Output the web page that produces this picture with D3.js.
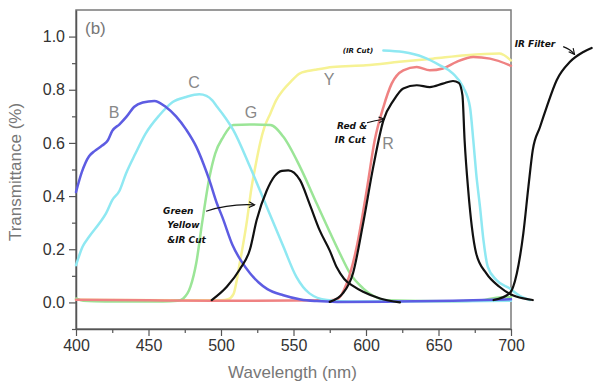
<!DOCTYPE html>
<html>
<head>
<meta charset="utf-8">
<script src="https://cdn.jsdelivr.net/npm/d3@7"></script>
<style>
  body { margin: 0; background: #fff; }
  svg { display: block; font-family: "Liberation Sans", Arial, sans-serif; }
</style>
</head>
<body>
<script>
// chart size and plot box
var canvasX = 600;
var canvasY = 389;
var plotLeft = 76, plotRight = 511, plotTop = 10, plotBottom = 329;

// axis ticks
var xTicks = [400, 450, 500, 550, 600, 650, 700];
var xMinor = [425, 475, 525, 575, 625, 675];
var yTicks = [0.0, 0.2, 0.4, 0.6, 0.8, 1.0];
var yMinor = [-0.1, 0.1, 0.3, 0.5, 0.7, 0.9];

// filter curves, [wavelength nm, transmittance]
var blueB = [[400,0.415],[404,0.49],[409,0.55],[413,0.57],[418,0.59],[422,0.61],[425,0.645],[430,0.67],[435,0.70],[440,0.735],[446,0.752],[454,0.758],[462,0.735],[469,0.70],[476,0.65],[483,0.585],[488,0.52],[492,0.46],[497,0.375],[501,0.32],[508,0.215],[514,0.155],[520,0.11],[526,0.075],[532,0.05],[543,0.027],[555,0.011],[566,0.005],[580,0.002],[620,0.003],[660,0.006],[700,0.012]];
var cyanC = [[400,0.14],[404.6,0.21],[409,0.247],[416,0.297],[420.7,0.335],[425,0.385],[430,0.42],[434.5,0.485],[441,0.56],[448,0.635],[457.5,0.704],[466.7,0.754],[476,0.773],[485,0.783],[490,0.777],[494,0.76],[497,0.738],[501,0.71],[508.5,0.648],[520,0.51],[531.5,0.36],[543,0.21],[552,0.096],[561,0.034],[573,0.009],[590,0.003],[650,0.004],[700,0.006]];
var cyanIR = [[612,0.948],[625.7,0.942],[639.5,0.923],[651,0.892],[660,0.861],[667,0.81],[671.7,0.735],[674,0.61],[676,0.485],[678.6,0.36],[681,0.234],[684,0.134],[690,0.084],[699,0.053],[706,0.025],[713,0.009]];
var greenG = [[400,0.015],[405,0.006],[420,0.003],[460,0.003],[470,0.006],[474,0.015],[479,0.06],[483,0.15],[487,0.30],[492,0.47],[496,0.56],[501.6,0.623],[508.5,0.667],[520,0.669],[534,0.667],[543,0.623],[554.5,0.51],[566,0.372],[575,0.265],[582,0.184],[589,0.109],[598,0.053],[605,0.025],[615,0.008],[660,0.004],[680,0.008],[690,0.018],[700,0.02]];
var yellowY = [[400,0.01],[470,0.008],[500,0.008],[505,0.012],[508.5,0.03],[513,0.15],[517.7,0.30],[521,0.43],[524,0.52],[527,0.60],[530,0.66],[534,0.71],[538,0.76],[543,0.80],[548,0.83],[554.5,0.862],[565,0.875],[577,0.886],[600,0.892],[623,0.905],[646,0.917],[669,0.93],[692,0.936],[700,0.91]];
var redR = [[400,0.01],[450,0.008],[500,0.006],[550,0.007],[575,0.008],[580,0.012],[586.7,0.071],[593.6,0.209],[600.5,0.422],[606,0.61],[612,0.735],[617.7,0.823],[625.7,0.873],[635,0.886],[644,0.873],[653,0.88],[662.5,0.905],[674,0.923],[685.5,0.917],[700,0.89]];
var blackGY = [[493.6,0.009],[504,0.059],[513,0.125],[520,0.2],[524.6,0.31],[531.5,0.42],[537,0.475],[542,0.495],[546.4,0.497],[554.5,0.46],[561,0.372],[568,0.272],[575,0.195],[580,0.13],[585,0.088],[591,0.062],[598,0.04],[609.7,0.015],[623.4,0.0]];
var blackRed = [[575,0.002],[584,0.034],[591,0.109],[598,0.297],[605,0.51],[612,0.685],[619,0.76],[625.7,0.805],[635,0.817],[644,0.81],[653,0.823],[660,0.833],[664,0.826],[666.5,0.78],[668,0.61],[670.5,0.422],[673,0.284],[676,0.184],[683,0.109],[692,0.059],[700,0.03],[708.5,0.015],[715,0.009]];
var blackIR = [[688,0.009],[699,0.034],[704,0.109],[708.5,0.26],[712,0.435],[715,0.573],[720,0.66],[724.6,0.735],[731.5,0.836],[740.7,0.905],[749.9,0.942],[755.6,0.957]];

// curve labels [text, wavelength, transmittance]
var curveLabels = [["B", 426.2, 0.693], ["C", 481.4, 0.806], ["G", 520.7, 0.693], ["Y", 574.5, 0.817], ["R", 615.2, 0.576]];

// handwritten notes [text, wavelength, transmittance, size]
var notes = [["(IR Cut)", 584, 0.94, 7], ["Green", 460, 0.334, 9], ["Yellow", 463, 0.281, 9], ["&IR Cut", 463, 0.225, 9],
             ["Red &", 580, 0.653, 9], ["IR Cut", 578.5, 0.600, 9], ["IR Filter", 702.5, 0.962, 9]];
// note arrows, start / control / end
var arrows = [[[489.7, 0.343], [506, 0.372], [522.8, 0.367]],
              [[600.7, 0.676], [606, 0.684], [612.4, 0.689]],
              [[736, 0.962], [741, 0.952], [743.5, 0.935]]];

var x = d3.scaleLinear().domain([400, 700]).range([plotLeft, plotRight]);
var y = d3.scaleLinear().domain([-0.1, 1.1]).range([plotBottom, plotTop]);

var svg = d3.select("body").append("svg")
    .attr("width", canvasX)
    .attr("height", canvasY);

// frame
svg.append("rect")
    .attr("x", plotLeft).attr("y", plotTop)
    .attr("width", plotRight - plotLeft).attr("height", plotBottom - plotTop)
    .attr("fill", "none").attr("stroke", "#7a7a7a").attr("stroke-width", 1.5);

// axes with outward ticks
svg.append("g")
    .attr("transform", "translate(0," + plotBottom + ")")
    .call(d3.axisBottom(x).tickValues(xTicks).tickSize(7).tickSizeOuter(0).tickPadding(4).tickFormat(d3.format("d")));
svg.append("g")
    .attr("transform", "translate(0," + plotBottom + ")")
    .call(d3.axisBottom(x).tickValues(xMinor).tickSize(4).tickFormat(""))
    .select(".domain").remove();
svg.append("g")
    .attr("transform", "translate(" + plotLeft + ",0)")
    .call(d3.axisLeft(y).tickValues(yTicks).tickSize(7).tickSizeOuter(0).tickPadding(4).tickFormat(d3.format(".1f")));
svg.append("g")
    .attr("transform", "translate(" + plotLeft + ",0)")
    .call(d3.axisLeft(y).tickValues(yMinor).tickSize(4).tickFormat(""))
    .select(".domain").remove();

svg.selectAll(".domain").attr("stroke", "#555").attr("stroke-width", 1.5);
svg.selectAll(".tick line").attr("stroke", "#555").attr("stroke-width", 1.2);
svg.selectAll(".tick text")
    .attr("fill", "#333")
    .style("font-size", "16px")
    .style("font-family", "Liberation Sans, Arial, sans-serif");

// axis titles
svg.append("text")
    .attr("x", (plotLeft + plotRight) / 2 - 1)
    .attr("y", 378)
    .attr("text-anchor", "middle")
    .attr("fill", "#777")
    .style("font-size", "17px")
    .text("Wavelength (nm)");
svg.append("text")
    .attr("transform", "translate(21," + 172 + ") rotate(-90)")
    .attr("text-anchor", "middle")
    .attr("fill", "#777")
    .style("font-size", "17px")
    .text("Transmittance (%)");

svg.append("text")
    .attr("x", 85).attr("y", 34)
    .attr("fill", "#777")
    .style("font-size", "17px")
    .text("(b)");

// curves
var line = d3.line()
    .x(function(d) { return x(d[0]); })
    .y(function(d) { return y(d[1]); })
    .curve(d3.curveMonotoneX);

var series = [
    [yellowY, "#f6f294", 2.5],
    [greenG, "#9be597", 2.5],
    [redR, "#ef8282", 2.5],
    [cyanC, "#8fe8f2", 2.5],
    [cyanIR, "#8fe8f2", 2.5],
    [blueB, "#5d5ce2", 2.5],
    [blackGY, "#111", 2.2],
    [blackRed, "#111", 2.2],
    [blackIR, "#111", 2.2]
];

svg.selectAll("path.curve")
    .data(series)
    .enter().append("path")
    .attr("class", "curve")
    .attr("d", function(d) { return line(d[0]); })
    .attr("fill", "none")
    .attr("stroke", function(d) { return d[1]; })
    .attr("stroke-width", function(d) { return d[2]; })
    .attr("stroke-linejoin", "round")
    .attr("stroke-linecap", "round");

// curve letters
svg.selectAll("text.clabel")
    .data(curveLabels)
    .enter().append("text")
    .attr("class", "clabel")
    .attr("x", function(d) { return x(d[1]); })
    .attr("y", function(d) { return y(d[2]); })
    .attr("text-anchor", "middle")
    .attr("fill", "#888")
    .style("font-size", "16px")
    .text(function(d) { return d[0]; });

// handwritten notes
svg.selectAll("text.note")
    .data(notes)
    .enter().append("text")
    .attr("class", "note")
    .attr("x", function(d) { return x(d[1]); })
    .attr("y", function(d) { return y(d[2]); })
    .attr("fill", "#111")
    .style("font-family", "DejaVu Sans, sans-serif")
    .style("font-style", "italic")
    .style("font-weight", "bold")
    .style("font-size", function(d) { return d[3] + "px"; })
    .text(function(d) { return d[0]; });

svg.append("defs").append("marker")
    .attr("id", "head")
    .attr("viewBox", "0 0 10 10")
    .attr("refX", 8).attr("refY", 5)
    .attr("markerWidth", 6).attr("markerHeight", 6)
    .attr("orient", "auto")
    .append("path")
    .attr("d", "M1,1 L9,5 L1,9")
    .attr("fill", "none").attr("stroke", "#111").attr("stroke-width", 1.6);

svg.selectAll("path.arrow")
    .data(arrows)
    .enter().append("path")
    .attr("class", "arrow")
    .attr("d", function(d) {
        return "M" + x(d[0][0]) + "," + y(d[0][1]) +
               " Q" + x(d[1][0]) + "," + y(d[1][1]) +
               " " + x(d[2][0]) + "," + y(d[2][1]);
    })
    .attr("fill", "none")
    .attr("stroke", "#111")
    .attr("stroke-width", 1.2)
    .attr("marker-end", "url(#head)");
</script>
</body>
</html>
